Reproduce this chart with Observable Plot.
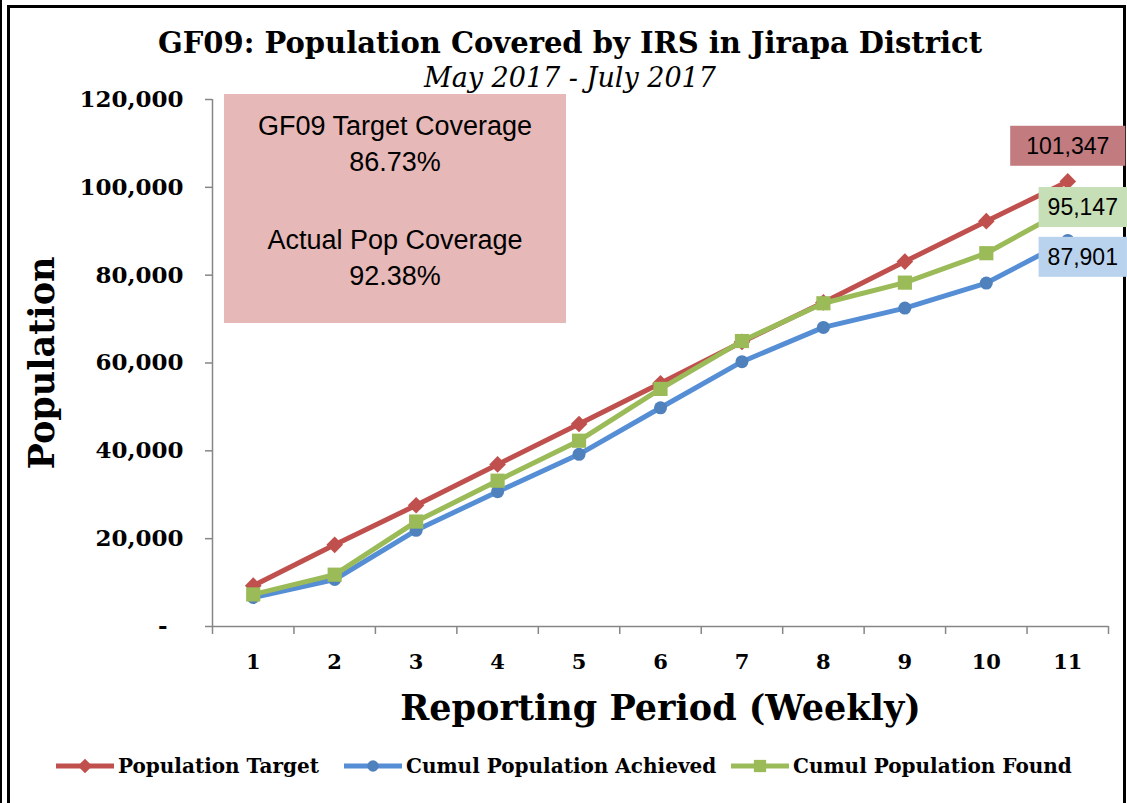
<!DOCTYPE html>
<html>
<head>
<meta charset="utf-8">
<script src="https://cdn.jsdelivr.net/npm/d3@7"></script>
<script src="https://cdn.jsdelivr.net/npm/@observablehq/plot@0.6"></script>
<style>
  body { margin: 0; background: #fff; }
  #frame { position: relative; width: 1127px; height: 803px; overflow: hidden; background: #fff; }
  #outerline { position: absolute; left: 0; top: 0; width: 2px; height: 803px; background: #000; }
  #border { position: absolute; left: 7px; top: 5px; width: 1113px; height: 820px;
            border-left: 3px solid #000; border-top: 3px solid #000; border-right: 3px solid #000; }
  #title { position: absolute; left: 0; width: 1140px; top: 25px; text-align: center; line-height: 36px;
           font-family: "DejaVu Serif", serif; font-weight: bold; font-size: 29px; color: #000; }
  #subtitle { position: absolute; left: 0; width: 1140px; top: 61px; text-align: center; line-height: 34px;
              font-family: "DejaVu Serif", serif; font-style: italic; font-size: 27px; color: #000; }
  #chart { position: absolute; left: 0; top: 90px; }
  #note { position: absolute; left: 224px; top: 94px; width: 342px; height: 229px; background: #E6B8B7;
          font-family: "Liberation Sans", Arial, sans-serif; font-size: 27px; color: #000;
          text-align: center; line-height: 36px; box-sizing: border-box; padding-top: 14px; }
  #note .gap { height: 42px; }
  .leg { position: absolute; top: 752px; height: 28px; display: flex; align-items: center;
         font-family: "DejaVu Serif", serif; font-weight: bold; font-size: 20px; color: #000; white-space: nowrap; }
  .leg svg { margin-right: 3px; }
</style>
</head>
<body>
<div id="frame">
  <div id="outerline"></div>
  <div id="border"></div>
  <div id="title">GF09: Population Covered by IRS in Jirapa District</div>
  <div id="subtitle">May 2017 - July 2017</div>
  <div id="chart"></div>
  <div id="note">
    <div>GF09 Target Coverage</div>
    <div>86.73%</div>
    <div class="gap"></div>
    <div>Actual Pop Coverage</div>
    <div>92.38%</div>
  </div>
</div>
<script>
// ---- data ----
const periods = [1, 2, 3, 4, 5, 6, 7, 8, 9, 10, 11];
const target   = [9300, 18600, 27600, 36900, 46100, 55400, 64800, 73800, 83100, 92300, 101347];
const achieved = [6600, 10700, 21900, 30700, 39200, 49800, 60300, 68100, 72500, 78200, 87901];
const found    = [7300, 11800, 23900, 33200, 42300, 54100, 65000, 73600, 78300, 85000, 95147];
const seriesNames = ["Population Target", "Cumul Population Achieved", "Cumul Population Found"];
const seriesValues = [target, achieved, found];
const yTicks = [0, 20000, 40000, 60000, 80000, 100000, 120000];

// ---- styling ----
const colors = ["#C0504D", "#4F81BD", "#9BBB59"];
const lineColors = ["#C0504D", "#558ED5", "#9BBB59"];
const symbols = ["diamond2", "circle", "square"];
const radii = [7.5, 6.5, 8];
const labelFills = ["#C27B7F", "#B9D3EE", "#C6DFB6"];
const labelOffsets = [{dx: 0, dy: -35}, {dx: 15, dy: 17}, {dx: 15, dy: -1}];
const labelPad = [16, 9, 9];
const grey = "#868686";

const rows = seriesNames.map((s, k) => periods.map((p, i) => ({series: s, period: p, value: seriesValues[k][i]})));
const bounds = [...periods.map(p => p - 0.5), periods[periods.length - 1] + 0.5];
const fmt = d3.format(",");

const seriesMarks = rows.flatMap((r, k) => [
  Plot.line(r, {x: "period", y: "value", stroke: lineColors[k], strokeWidth: 5}),
  Plot.dot(r, {x: "period", y: "value", fill: colors[k], stroke: "none", symbol: () => symbols[k], r: radii[k]})
]);

const lastOf = k => [rows[k][rows[k].length - 1]];
const labelOrder = [0, 2, 1];
const labelMarks = labelOrder.map(k => Plot.text(lastOf(k), {
  x: "period", y: "value", text: d => fmt(d.value),
  dx: labelOffsets[k].dx, dy: labelOffsets[k].dy,
  fontFamily: "Liberation Sans, Arial, sans-serif", fontSize: 23, fill: "#000"
}));

const chart = Plot.plot({
  width: 1127, height: 640,
  marginLeft: 212, marginRight: 19, marginTop: 9, marginBottom: 104,
  x: {type: "linear", domain: [0.5, 11.5]},
  y: {domain: [0, 120000]},
  style: {fontFamily: "DejaVu Serif, serif", color: "#000", background: "transparent", overflow: "visible"},
  marks: [
    Plot.ruleX([0.5], {y1: 0, y2: 120000, stroke: grey, strokeWidth: 1.5}),
    Plot.ruleY([0], {x1: 0.5, x2: 11.5, stroke: grey, strokeWidth: 1.5}),
    Plot.axisY({ticks: yTicks, tickSize: 7, tickPadding: 22, stroke: grey, strokeWidth: 1.5, fill: "#000",
      tickFormat: d => d === 0 ? "-\u00a0\u00a0" : fmt(d), fontSize: 23, fontWeight: "bold", label: null}),
    Plot.axisX({ticks: bounds, tickSize: 8, stroke: grey, strokeWidth: 1.5, tickFormat: () => "", label: null}),
    Plot.axisX({ticks: periods, tickSize: 0, tickPadding: 28, fontSize: 21, fontWeight: "bold", fill: "#000",
      tickFormat: d => String(d), label: null}),
    Plot.text(["Population"], {frameAnchor: "left", rotate: -90, dx: -170, textAnchor: "middle", lineAnchor: "middle",
      fontSize: 35, fontWeight: "bold", fill: "#000", text: d => d}),
    Plot.text(["Reporting Period (Weekly)"], {frameAnchor: "bottom", dy: 82, lineAnchor: "middle",
      fontSize: 35, fontWeight: "bold", fill: "#000", text: d => d}),
    ...seriesMarks,
    ...labelMarks
  ]
});
document.getElementById("chart").appendChild(chart);

// boxes behind data labels
const svgNS = "http://www.w3.org/2000/svg";
seriesNames.forEach((s, k) => {
  const txt = fmt(seriesValues[k][seriesValues[k].length - 1]);
  chart.querySelectorAll("text").forEach(t => {
    if (t.textContent !== txt) return;
    const b = t.getBBox();
    const padX = labelPad[k], padY = 8;
    const rect = document.createElementNS(svgNS, "rect");
    rect.setAttribute("x", b.x - padX);
    rect.setAttribute("y", b.y - padY + 1);
    rect.setAttribute("width", b.width + 2 * padX);
    rect.setAttribute("height", b.height + 2 * padY - 2);
    rect.setAttribute("fill", labelFills[k]);
    const tr = t.getAttribute("transform");
    if (tr) rect.setAttribute("transform", tr);
    t.parentNode.insertBefore(rect, t);
  });
});

// legend
const legendLefts = [55, 343, 730];
const frame = document.getElementById("frame");
seriesNames.forEach((s, k) => {
  const div = document.createElement("div");
  div.className = "leg";
  div.style.left = legendLefts[k] + "px";
  const sym = d3.symbol(k === 0 ? d3.symbolDiamond2 : k === 1 ? d3.symbolCircle : d3.symbolSquare, Math.PI * radii[k] * radii[k] * 0.75)();
  div.innerHTML = `<svg width="60" height="20"><line x1="1" x2="59" y1="10" y2="10" stroke="${lineColors[k]}" stroke-width="5"/>` +
    `<path d="${sym}" transform="translate(30,10)" fill="${colors[k]}"/></svg><span>${s}</span>`;
  frame.appendChild(div);
});
</script>
</body>
</html>
